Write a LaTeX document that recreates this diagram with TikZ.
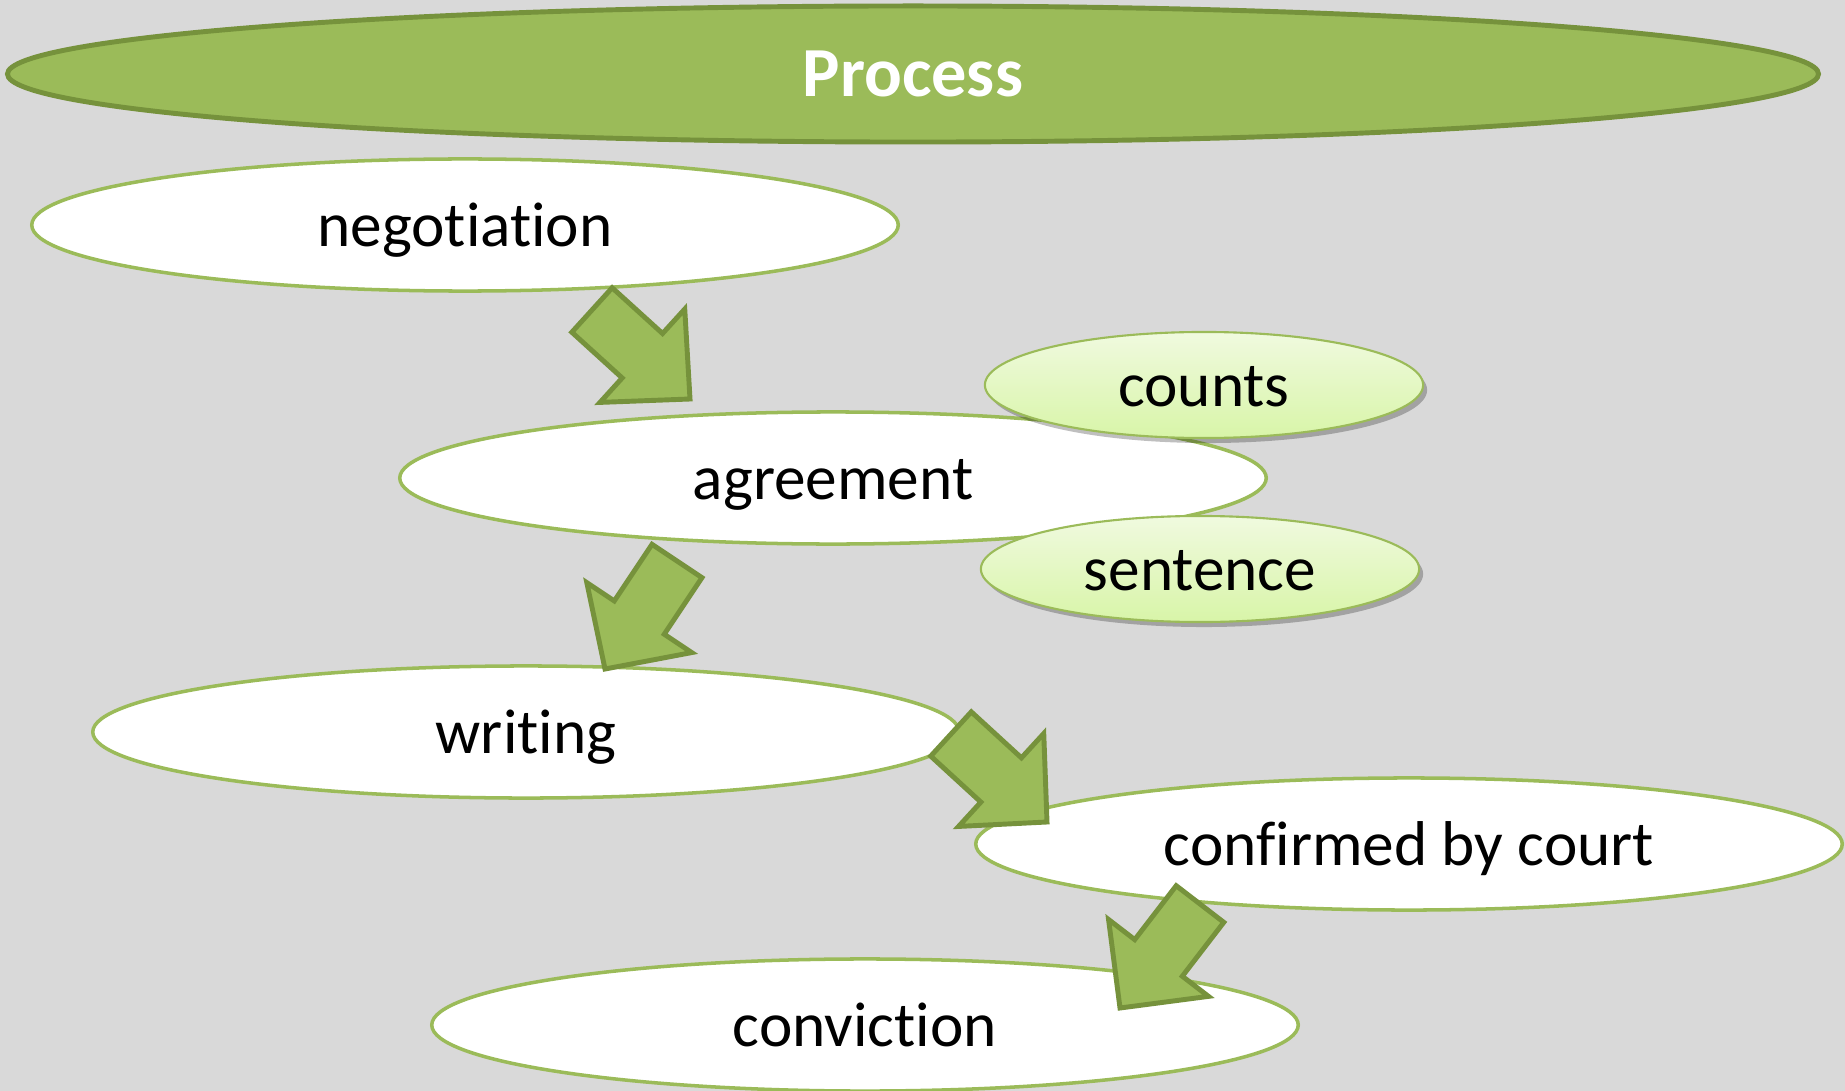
\documentclass[tikz,border=0pt]{standalone}
\usepackage{fontspec}
\setmainfont{Carlito}[Ligatures={TeX,NoCommon}]
\usepackage{tikz}
\usetikzlibrary{shapes.geometric,calc,shadows}
\definecolor{Leaf}{HTML}{9BBB59}
\definecolor{Moss}{HTML}{76923C}
\definecolor{Paper}{HTML}{D9D9D9}
\definecolor{Sprout}{HTML}{F0FADF}
\definecolor{Lime}{HTML}{D8F5A8}

\tikzset{
  stage/.style={ellipse,draw=Leaf,fill=white,line width=1pt,inner sep=0pt,
    minimum width=8.66cm,minimum height=1.32cm,font=\fontsize{18}{20}\selectfont,
    text height=16pt,text depth=3.6pt},
  remark/.style={ellipse,draw=Leaf,line width=0.6pt,inner sep=0pt,
    top color=Sprout,bottom color=Lime,text height=16pt,text depth=3.6pt,
    minimum width=4.38cm,minimum height=1.06cm,font=\fontsize{18}{20}\selectfont,
    drop shadow={shadow xshift=0.04cm,shadow yshift=-0.05cm,fill=black,opacity=0.25}},
  flow/.style={fill=Leaf,draw=Moss,line width=1.4pt,line join=miter}
}

\begin{document}
\begin{tikzpicture}[x=0.01cm,y=-0.01cm]
        \fill[Paper] (0,0) rectangle (1845,1091);
        \useasboundingbox (0,0) rectangle (1845,1091);
        % title
        \node[ellipse,draw=Moss,fill=Leaf,line width=1.4pt,inner sep=0pt,
          minimum width=18.1cm,minimum height=1.36cm,text=white,
          font=\bfseries\fontsize{20}{22}\selectfont] (title) at (913,74) {Process};
        % steps
        \node[stage] (negotiation) at (465,225) {negotiation};
        \node[stage] (agreement) at (833,478) {agreement};
        \node[stage] (writing) at (526,732) {writing};
        \node[stage] (court) at (1409,844) {confirmed by court};
        \node[stage] (conviction) at (865,1025) {conviction};
        \node[remark] (counts) at (1204,385) {counts};
        \node[remark] (sentence) at (1200,569) {sentence};
        % block arrows
        \coordinate (n1) at (592,310);  \coordinate (n2) at (690,399);
        \coordinate (a1) at (677,561);  \coordinate (a2) at (605,669);
        \coordinate (w1) at (951,734);  \coordinate (w2) at (1047,822);
        \coordinate (c1) at (1200,904); \coordinate (c2) at (1120,1008);
        \foreach \s/\e in {n1/n2,a1/a2,w1/w2,c1/c2}{
          \coordinate (m) at ($(\s)!0.68cm!(\e)$);
          \draw[flow] ($(\s)!0.3cm!90:(\e)$) -- ($(m)!0.3cm!90:(\e)$)
            -- ($(m)!0.63cm!90:(\e)$) -- (\e) -- ($(m)!0.63cm!-90:(\e)$)
            -- ($(m)!0.3cm!-90:(\e)$) -- ($(\s)!0.3cm!-90:(\e)$) -- cycle;
        }
      \end{tikzpicture}
\end{document}
